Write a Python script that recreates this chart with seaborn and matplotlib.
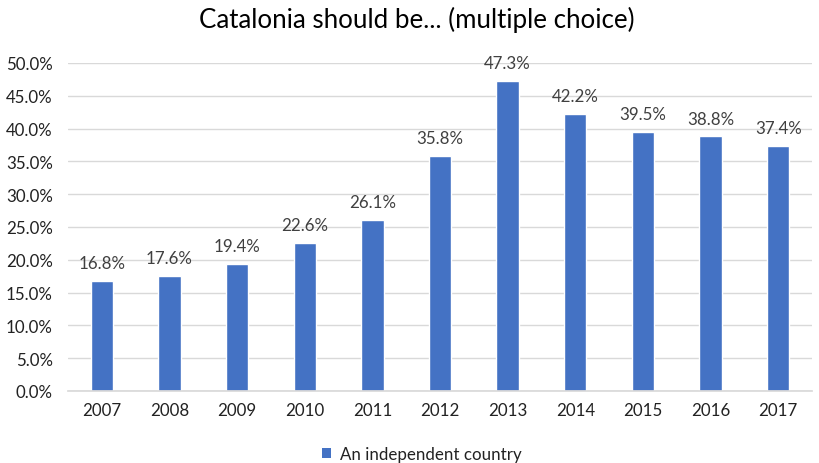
import matplotlib
matplotlib.use("Agg")
import matplotlib.pyplot as plt
import seaborn as sns
import pandas as pd
from matplotlib.ticker import PercentFormatter
from matplotlib.patches import Patch

years = ["2007", "2008", "2009", "2010", "2011", "2012", "2013", "2014", "2015", "2016", "2017"]
values = [16.8, 17.6, 19.4, 22.6, 26.1, 35.8, 47.3, 42.2, 39.5, 38.8, 37.4]
series_name = "An independent country"
title = "Catalonia should be... (multiple choice)"

sns.set_theme(style="white")
plt.rcParams['font.family'] = ['Lato', 'DejaVu Sans']

df = pd.DataFrame({"year": years, "value": values})

fig = plt.figure(figsize=(8.19, 4.64), dpi=100)
ax = fig.add_axes([68/819, 1-392/464, (812-68)/819, (392-64)/464])

color = "#4472C4"
sns.barplot(data=df, x="year", y="value", color=color, width=0.33, ax=ax, saturation=1)

ax.set_ylim(0, 50)
ax.set_yticks(range(0, 51, 5))
ax.yaxis.set_major_formatter(PercentFormatter(decimals=1))
ax.grid(axis="y", color="#D9D9D9", linewidth=1)
ax.set_axisbelow(True)
for s in ["top", "right", "left"]:
    ax.spines[s].set_visible(False)
ax.spines["bottom"].set_color("#D9D9D9")
ax.set_xlabel("")
ax.set_ylabel("")
ax.tick_params(axis="both", length=0, labelsize=12.2, colors="#222222")
ax.tick_params(axis="y", pad=11)
ax.tick_params(axis="x", pad=8)

for i, v in enumerate(values):
    ax.annotate(f"{v:.1f}%", (i, v), xytext=(0, 7), textcoords="offset points",
                ha="center", va="bottom", fontsize=12.2, color="#404040")

fig.suptitle(title, x=417/819, y=1-20/464, va="center", fontsize=18.6, color="#000000")

handle = Patch(facecolor=color, edgecolor="none")
fig.legend([handle], [series_name], loc="center", bbox_to_anchor=(0.515, 1-455/464),
           frameon=False, fontsize=12.2, handlelength=0.55, handleheight=0.55,
           handletextpad=0.5, labelcolor="#222222")

fig.savefig("out.png", dpi=100)
